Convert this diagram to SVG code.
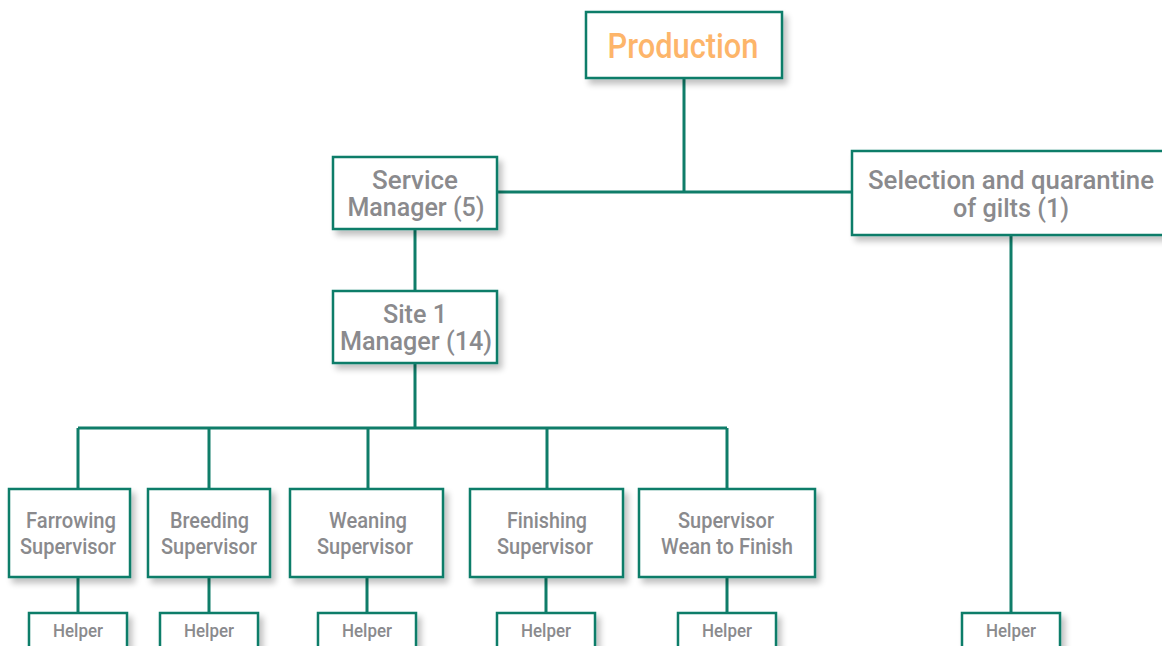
<svg xmlns="http://www.w3.org/2000/svg" width="1162" height="646" viewBox="0 0 1162 646">
<defs>
<filter id="sh" x="-20%" y="-20%" width="150%" height="160%">
<feGaussianBlur in="SourceAlpha" stdDeviation="3"/>
<feOffset dx="4" dy="5" result="b"/>
<feComponentTransfer><feFuncA type="linear" slope="0.25"/></feComponentTransfer>
<feMerge><feMergeNode/><feMergeNode in="SourceGraphic"/></feMerge>
</filter>
</defs>
<style>
.box{fill:#fff;stroke:#0f7d69;stroke-width:2.5;filter:url(#sh)}
.ln{stroke:#0f7d69;stroke-width:3;fill:none}
text{font-family:Roboto,"Liberation Sans",sans-serif;font-weight:500;fill:#8a8a8d;text-anchor:middle}
.t1{font-size:25px}
.t2{font-size:22px}
.t3{font-size:19px}
.top{font-size:35px;fill:#fdb56a}
</style>
<rect width="1162" height="646" fill="#fff"/>
<g id="connectors">
<path class="ln" d="M684 78V192M498 192H852"/>
<path class="ln" d="M415 229V292"/>
<path class="ln" d="M415 363V428M78 428H727M78 428V489M209 428V489M368 428V489M547 428V489M727 428V489"/>
<path class="ln" d="M78 577V613M209 577V613M367 577V613M546 577V613M727 577V613M1011 235V613"/>
</g>
<g id="production"><rect class="box" x="586" y="12" width="196" height="66"/><text class="top" x="683" y="58" textLength="151" lengthAdjust="spacingAndGlyphs">Production</text></g>
<g id="service-manager"><rect class="box" x="333" y="157" width="164" height="72"/><text class="t1" x="415" y="189" textLength="86" lengthAdjust="spacingAndGlyphs">Service</text><text class="t1" x="416" y="216" textLength="137" lengthAdjust="spacingAndGlyphs">Manager (5)</text></g>
<g id="selection"><rect class="box" x="852" y="151" width="320" height="84"/><text class="t1" x="1011" y="189" textLength="286" lengthAdjust="spacingAndGlyphs">Selection and quarantine</text><text class="t1" x="1011" y="217" textLength="116" lengthAdjust="spacingAndGlyphs">of gilts (1)</text></g>
<g id="site1"><rect class="box" x="333" y="291" width="164" height="72"/><text class="t1" x="415" y="323" textLength="64" lengthAdjust="spacingAndGlyphs">Site 1</text><text class="t1" x="416" y="350" textLength="152" lengthAdjust="spacingAndGlyphs">Manager (14)</text></g>
<g id="farrowing"><rect class="box" x="9" y="489" width="121" height="88"/><text class="t2" x="71" y="528" textLength="90" lengthAdjust="spacingAndGlyphs">Farrowing</text><text class="t2" x="68" y="554" textLength="96" lengthAdjust="spacingAndGlyphs">Supervisor</text></g>
<g id="breeding"><rect class="box" x="148" y="489" width="122" height="88"/><text class="t2" x="209.5" y="528" textLength="79" lengthAdjust="spacingAndGlyphs">Breeding</text><text class="t2" x="209" y="554" textLength="96" lengthAdjust="spacingAndGlyphs">Supervisor</text></g>
<g id="weaning"><rect class="box" x="290" y="489" width="153" height="88"/><text class="t2" x="368" y="528" textLength="78" lengthAdjust="spacingAndGlyphs">Weaning</text><text class="t2" x="365" y="554" textLength="96" lengthAdjust="spacingAndGlyphs">Supervisor</text></g>
<g id="finishing"><rect class="box" x="470" y="489" width="153" height="88"/><text class="t2" x="547" y="528" textLength="80" lengthAdjust="spacingAndGlyphs">Finishing</text><text class="t2" x="545" y="554" textLength="96" lengthAdjust="spacingAndGlyphs">Supervisor</text></g>
<g id="wean-to-finish"><rect class="box" x="639" y="489" width="176" height="88"/><text class="t2" x="726" y="528" textLength="96" lengthAdjust="spacingAndGlyphs">Supervisor</text><text class="t2" x="727" y="554" textLength="132" lengthAdjust="spacingAndGlyphs">Wean to Finish</text></g>
<g id="helper1"><rect class="box" x="29" y="613" width="98" height="45"/><text class="t3" x="78" y="637" textLength="50" lengthAdjust="spacingAndGlyphs">Helper</text></g>
<g id="helper2"><rect class="box" x="160" y="613" width="98" height="45"/><text class="t3" x="209" y="637" textLength="50" lengthAdjust="spacingAndGlyphs">Helper</text></g>
<g id="helper3"><rect class="box" x="318" y="613" width="98" height="45"/><text class="t3" x="367" y="637" textLength="50" lengthAdjust="spacingAndGlyphs">Helper</text></g>
<g id="helper4"><rect class="box" x="497" y="613" width="98" height="45"/><text class="t3" x="546" y="637" textLength="50" lengthAdjust="spacingAndGlyphs">Helper</text></g>
<g id="helper5"><rect class="box" x="678" y="613" width="98" height="45"/><text class="t3" x="727" y="637" textLength="50" lengthAdjust="spacingAndGlyphs">Helper</text></g>
<g id="helper6"><rect class="box" x="962" y="613" width="98" height="45"/><text class="t3" x="1011" y="637" textLength="50" lengthAdjust="spacingAndGlyphs">Helper</text></g>
</svg>
